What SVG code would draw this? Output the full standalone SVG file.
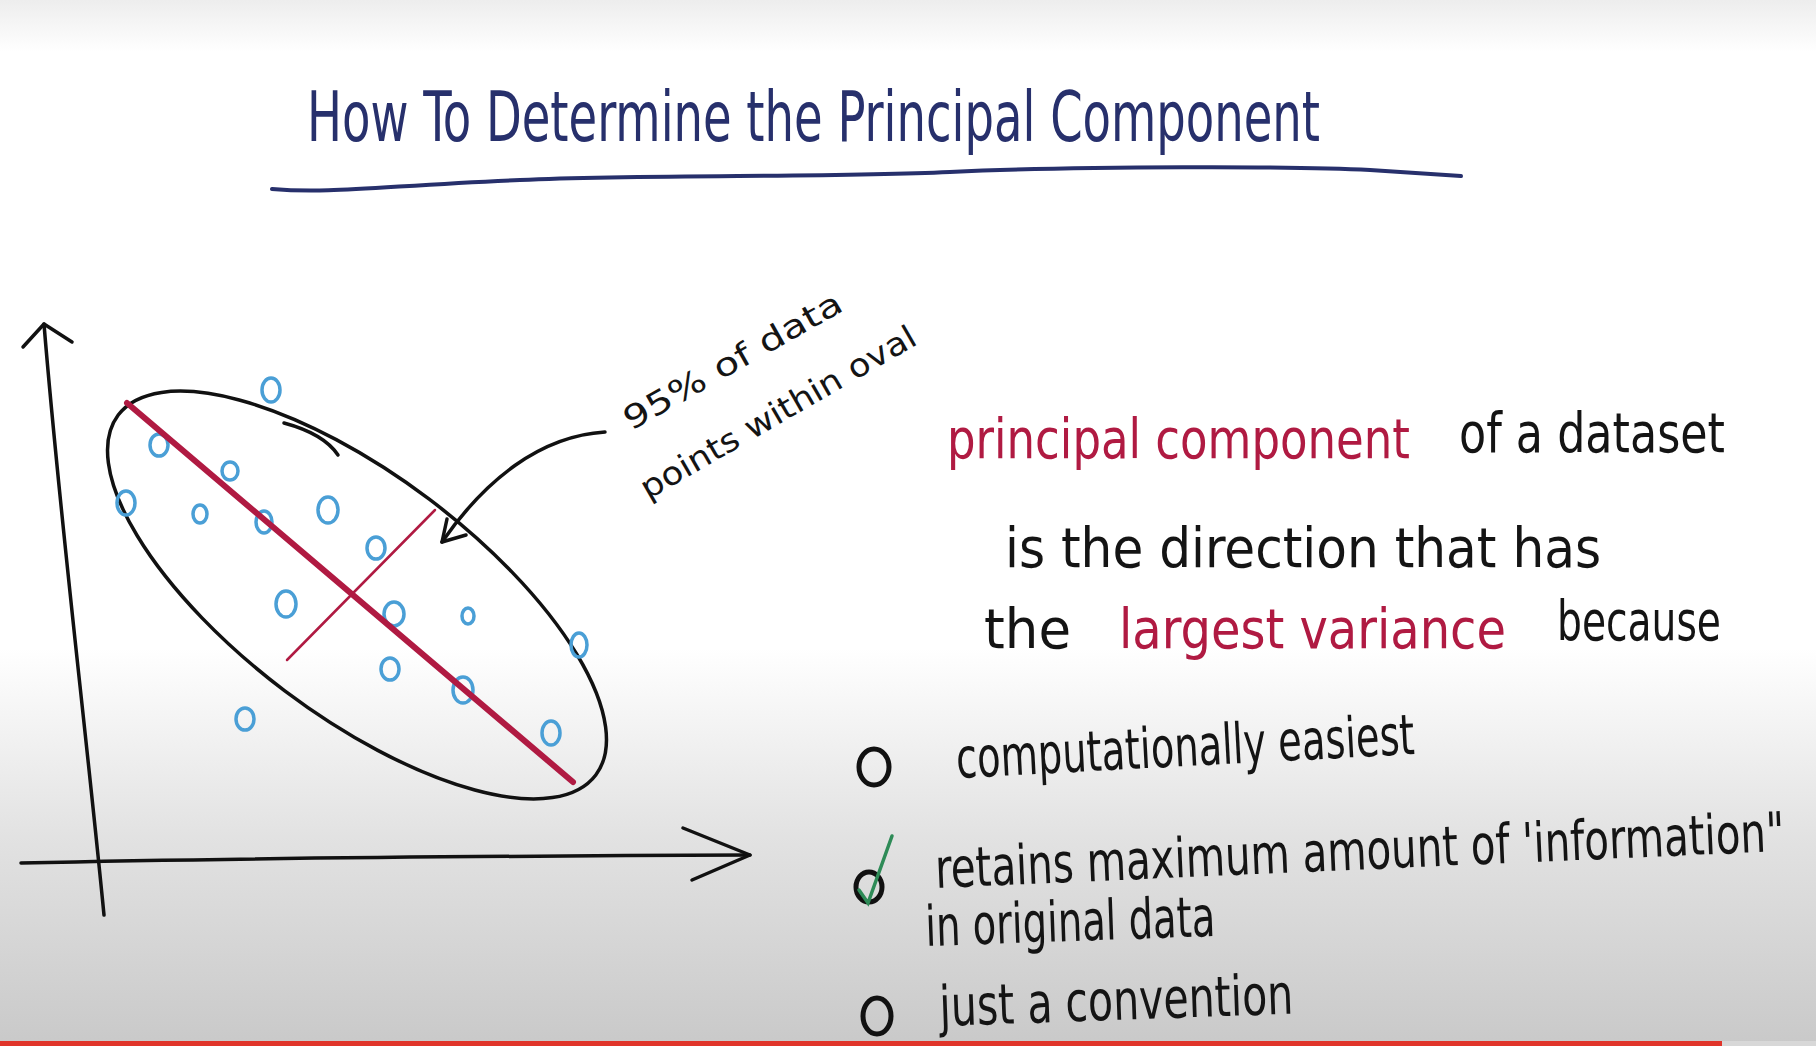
<svg xmlns="http://www.w3.org/2000/svg" width="1816" height="1046" viewBox="0 0 1816 1046">
<defs>
<linearGradient id="bg" x1="0" y1="0" x2="0" y2="1">
<stop offset="0" stop-color="#ededed"/>
<stop offset="0.05" stop-color="#ffffff"/>
<stop offset="0.62" stop-color="#ffffff"/>
<stop offset="0.8" stop-color="#e2e2e2"/>
<stop offset="1" stop-color="#c9c9c9"/>
</linearGradient>
<style>
.hand{font-family:"DejaVu Sans Condensed","Liberation Sans",sans-serif;}
.title{font-size:70px;fill:#27306c;}
.blk{font-size:56px;fill:#141414;}
.red{font-size:56px;fill:#b01a42;}
.note{font-size:32px;fill:#141414;}
.pt{fill:none;stroke:#4a9fd6;stroke-width:3.5;}
.ink{fill:none;stroke:#111;stroke-width:3.5;stroke-linecap:round;stroke-linejoin:round;}
.bul{fill:none;stroke:#111;stroke-width:5;}
</style>
</defs>
<rect x="0" y="0" width="1816" height="1046" fill="url(#bg)"/>
<rect x="0" y="1041" width="1722" height="5" fill="#e0342a"/>
<rect x="1722" y="1041" width="94" height="5" fill="#d8d8d8"/>

<g id="title">
<text class="hand title" x="307" y="141" textLength="1013" lengthAdjust="spacingAndGlyphs">How To Determine the Principal Component</text>
<path d="M272 189 C 330 194, 380 186, 520 180 S 820 178, 950 172 S 1300 166, 1370 170 L 1461 176" fill="none" stroke="#27306c" stroke-width="4" stroke-linecap="round"/>
</g>

<g id="axes">
<path class="ink" d="M44 324 C 60 520, 85 720, 104 915"/>
<path class="ink" d="M23 347 L44 324 L72 342"/>
<path class="ink" d="M21 863 C 250 858, 500 856, 750 855"/>
<path class="ink" d="M683 828 L750 855 L692 880"/>
</g>

<g id="oval">
<ellipse cx="357" cy="595" rx="299" ry="120" transform="rotate(37 357 595)" fill="none" stroke="#111" stroke-width="3.5"/>
<path class="ink" d="M284 423 C 310 430, 328 440, 338 455"/>
</g>

<g id="points">
<ellipse class="pt" cx="271" cy="390" rx="9" ry="12"/>
<ellipse class="pt" cx="159" cy="445" rx="9" ry="11"/>
<ellipse class="pt" cx="230" cy="471" rx="8" ry="9"/>
<ellipse class="pt" cx="126" cy="503" rx="9" ry="12"/>
<ellipse class="pt" cx="200" cy="514" rx="7" ry="9"/>
<ellipse class="pt" cx="264" cy="522" rx="8" ry="11"/>
<ellipse class="pt" cx="328" cy="510" rx="10" ry="13"/>
<ellipse class="pt" cx="376" cy="548" rx="9" ry="11"/>
<ellipse class="pt" cx="286" cy="604" rx="10" ry="13"/>
<ellipse class="pt" cx="394" cy="614" rx="10" ry="12"/>
<ellipse class="pt" cx="468" cy="616" rx="6" ry="8"/>
<ellipse class="pt" cx="579" cy="645" rx="8" ry="12"/>
<ellipse class="pt" cx="390" cy="669" rx="9" ry="11"/>
<ellipse class="pt" cx="463" cy="690" rx="10" ry="13"/>
<ellipse class="pt" cx="245" cy="719" rx="9" ry="11"/>
<ellipse class="pt" cx="551" cy="733" rx="9" ry="12"/>
</g>

<g id="components">
<path d="M127 403 L573 782" stroke="#b01a42" stroke-width="6" stroke-linecap="round"/>
<path d="M287 660 L435 510" stroke="#b01a42" stroke-width="2.5" stroke-linecap="round"/>
</g>

<g id="connectors">
<path class="ink" d="M605 432 C 540 436, 485 480, 442 542"/>
<path class="ink" d="M447 519 L442 542 L466 535"/>
</g>

<g id="annotation">
<text class="hand note" transform="translate(631,431) rotate(-29.5)" textLength="246" lengthAdjust="spacingAndGlyphs">95% of data</text>
<text class="hand note" transform="translate(648,500) rotate(-30)" textLength="313" lengthAdjust="spacingAndGlyphs">points within oval</text>
</g>

<g id="definition">
<text class="hand red" x="947" y="458" textLength="463" lengthAdjust="spacingAndGlyphs">principal component</text>
<text class="hand blk" x="1459" y="452" textLength="266" lengthAdjust="spacingAndGlyphs">of a dataset</text>
<text class="hand blk" x="1005" y="567" textLength="596" lengthAdjust="spacingAndGlyphs">is the direction that has</text>
<text class="hand blk" x="984" y="648" textLength="87" lengthAdjust="spacingAndGlyphs">the</text>
<text class="hand red" x="1119" y="648" textLength="387" lengthAdjust="spacingAndGlyphs">largest variance</text>
<text class="hand blk" x="1557" y="640" textLength="164" lengthAdjust="spacingAndGlyphs">because</text>
</g>

<g id="option1">
<ellipse class="bul" cx="874" cy="767" rx="15" ry="18"/>
<text class="hand blk" transform="translate(957,778) rotate(-3)" textLength="459" lengthAdjust="spacingAndGlyphs">computationally easiest</text>
</g>

<g id="option2">
<ellipse class="bul" cx="869" cy="887" rx="13" ry="15"/>
<path d="M859 890 L868 903 L892 836" fill="none" stroke="#2e8b57" stroke-width="3.5" stroke-linecap="round"/>
<text class="hand blk" transform="translate(936,888) rotate(-2.5) scale(1,1.25)" style="font-size:44px" textLength="850" lengthAdjust="spacingAndGlyphs">retains maximum amount of 'information"</text>
<text class="hand blk" transform="translate(926,946) rotate(-2)" textLength="290" lengthAdjust="spacingAndGlyphs">in original data</text>
</g>

<g id="option3">
<ellipse class="bul" cx="877" cy="1016" rx="14" ry="18"/>
<text class="hand blk" transform="translate(940,1026) rotate(-2)" textLength="354" lengthAdjust="spacingAndGlyphs">just a convention</text>
</g>
</svg>
